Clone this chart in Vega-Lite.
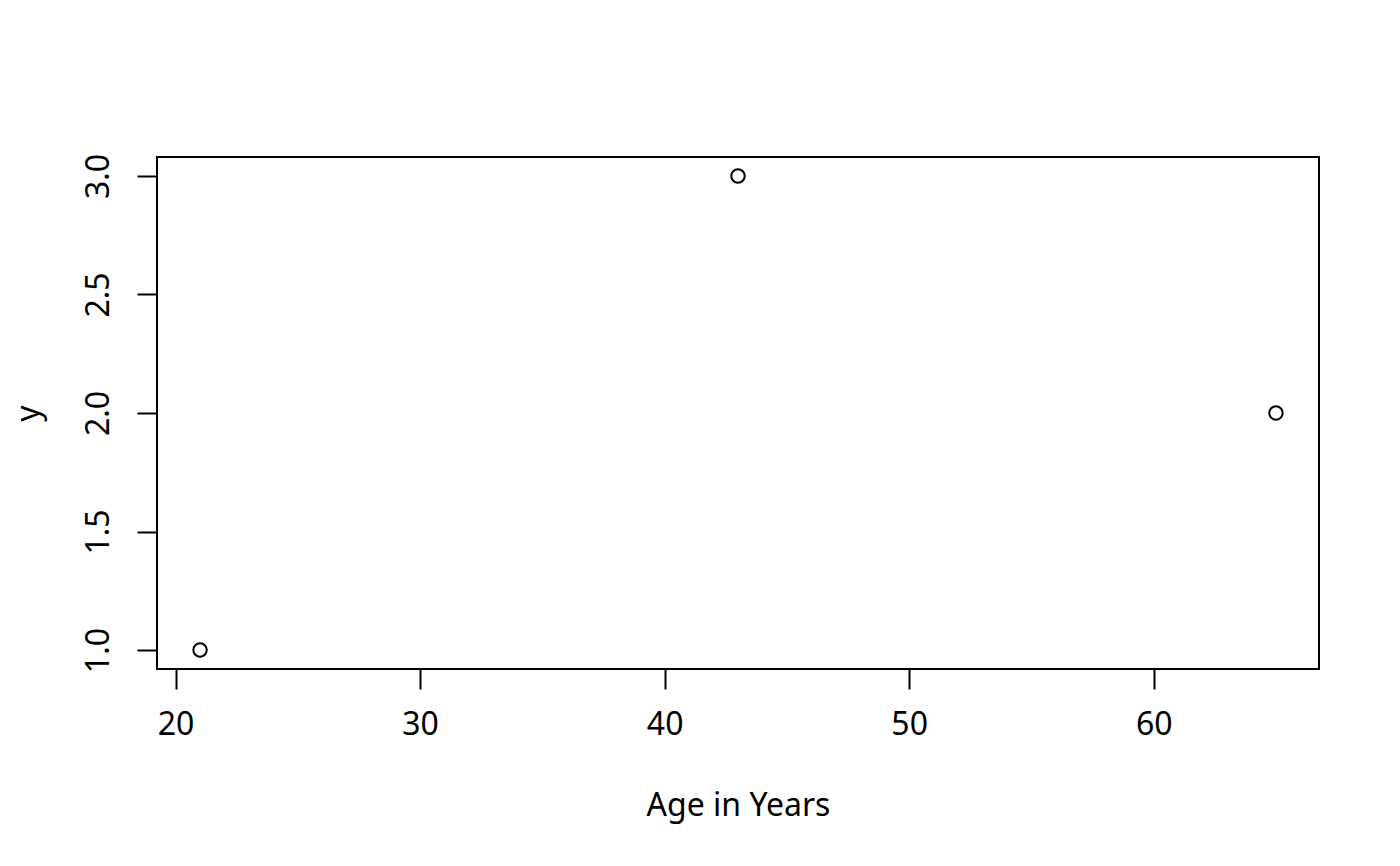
{
  "$schema": "https://vega.github.io/schema/vega-lite/v6.json",
  "autosize": {"type": "none"},
  "padding": {"left": 157, "top": 157, "right": 81, "bottom": 197},
  "width": 1162,
  "height": 512,
  "background": "white",
  "config": {
    "font": "Noto Sans",
    "view": {"stroke": "black", "strokeWidth": 2},
    "axis": {
      "domain": false,
      "grid": false,
      "ticks": true,
      "tickColor": "black",
      "tickWidth": 2,
      "tickSize": 20,
      "labelFont": "Noto Sans",
      "labelFontSize": 32,
      "labelColor": "black",
      "titleFont": "Noto Sans",
      "titleFontSize": 32,
      "titleFontWeight": "normal",
      "titleColor": "black"
    }
  },
  "data": {
    "values": [
      {"age": 21, "y": 1},
      {"age": 43, "y": 3},
      {"age": 65, "y": 2}
    ]
  },
  "mark": {"type": "point", "shape": "circle", "filled": false, "color": "black", "strokeWidth": 2, "size": 180, "opacity": 1},
  "encoding": {
    "x": {
      "field": "age",
      "type": "quantitative",
      "title": "Age in Years",
      "scale": {"domain": [19.24, 66.76], "nice": false, "zero": false},
      "axis": {"values": [20, 30, 40, 50, 60], "labelPadding": 20, "titlePadding": 50, "labelFlush": false}
    },
    "y": {
      "field": "y",
      "type": "quantitative",
      "title": "y",
      "scale": {"domain": [0.92, 3.08], "nice": false, "zero": false},
      "axis": {
        "values": [1, 1.5, 2, 2.5, 3],
        "format": ".1f",
        "labelAngle": -90,
        "labelAlign": "center",
        "labelBaseline": "bottom",
        "labelPadding": 22,
        "labelFlush": false,
        "titlePadding": 37
      }
    }
  }
}
